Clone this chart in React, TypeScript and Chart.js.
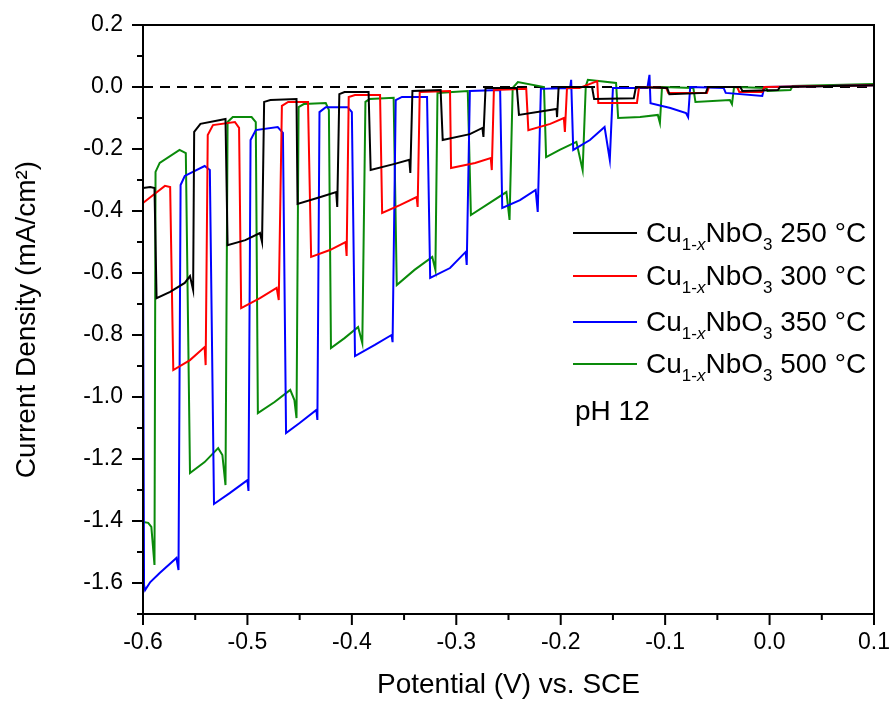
import React, { useEffect, useRef } from "react";
import { Chart, registerables } from "chart.js";

Chart.register(...registerables);

// ---- Data (Potential V vs SCE, Current density mA/cm^2) ----
const potential250 = [-0.600,-0.593,-0.589,-0.587,-0.574,-0.560,-0.555,-0.552,-0.551,-0.545,-0.521,-0.519,-0.502,-0.488,-0.486,-0.484,-0.478,-0.453,-0.452,-0.430,-0.415,-0.414,-0.412,-0.407,-0.384,-0.382,-0.359,-0.345,-0.344,-0.342,-0.315,-0.313,-0.287,-0.275,-0.274,-0.272,-0.242,-0.240,-0.204,-0.2035,-0.202,-0.170,-0.168,-0.130,-0.128,-0.098,-0.096,-0.061,-0.059,-0.028,-0.026,0.008,0.010,0.100];
const current250 = [-0.326,-0.323,-0.326,-0.681,-0.661,-0.632,-0.610,-0.655,-0.145,-0.119,-0.103,-0.510,-0.494,-0.471,-0.500,-0.048,-0.042,-0.039,-0.377,-0.355,-0.339,-0.387,-0.023,-0.016,-0.016,-0.268,-0.248,-0.235,-0.277,-0.013,-0.010,-0.171,-0.152,-0.132,-0.161,-0.003,-0.003,-0.090,-0.071,-0.097,0.000,0.000,-0.039,-0.036,0.000,-0.003,-0.023,-0.019,0.000,0.000,-0.013,-0.010,0.000,0.006];

const potential300 = [-0.600,-0.589,-0.579,-0.574,-0.571,-0.555,-0.541,-0.540,-0.538,-0.533,-0.512,-0.508,-0.506,-0.488,-0.472,-0.470,-0.467,-0.461,-0.442,-0.439,-0.421,-0.406,-0.405,-0.403,-0.397,-0.373,-0.371,-0.354,-0.338,-0.337,-0.335,-0.306,-0.305,-0.282,-0.267,-0.266,-0.264,-0.233,-0.231,-0.210,-0.197,-0.196,-0.194,-0.182,-0.165,-0.164,-0.127,-0.125,-0.099,-0.097,-0.060,-0.058,-0.031,-0.029,-0.007,-0.005,0.100];
const current300 = [-0.374,-0.345,-0.319,-0.323,-0.913,-0.881,-0.839,-0.897,-0.155,-0.123,-0.113,-0.132,-0.713,-0.681,-0.648,-0.687,-0.061,-0.048,-0.048,-0.548,-0.526,-0.500,-0.545,-0.032,-0.026,-0.026,-0.406,-0.381,-0.355,-0.387,-0.016,-0.013,-0.261,-0.245,-0.229,-0.268,-0.010,-0.006,-0.139,-0.119,-0.100,-0.145,-0.003,-0.003,0.019,-0.052,-0.052,0.000,-0.003,-0.019,-0.019,0.000,0.000,-0.016,-0.016,0.000,0.006];

const potential350 = [-0.600,-0.599,-0.598,-0.593,-0.584,-0.568,-0.566,-0.564,-0.560,-0.541,-0.536,-0.532,-0.517,-0.500,-0.499,-0.497,-0.492,-0.471,-0.466,-0.463,-0.450,-0.434,-0.433,-0.431,-0.425,-0.404,-0.400,-0.397,-0.378,-0.362,-0.361,-0.358,-0.352,-0.328,-0.325,-0.306,-0.291,-0.290,-0.287,-0.258,-0.256,-0.239,-0.224,-0.222,-0.219,-0.191,-0.190,-0.188,-0.172,-0.158,-0.153,-0.150,-0.117,-0.115,-0.114,-0.095,-0.080,-0.078,-0.076,-0.044,-0.042,-0.007,-0.005,0.100];
const current350 = [-0.565,-1.606,-1.623,-1.597,-1.568,-1.519,-1.558,-0.316,-0.287,-0.255,-0.268,-1.345,-1.310,-1.268,-1.303,-0.171,-0.139,-0.129,-0.148,-1.116,-1.084,-1.042,-1.074,-0.081,-0.065,-0.065,-0.081,-0.868,-0.832,-0.800,-0.823,-0.042,-0.032,-0.032,-0.616,-0.584,-0.532,-0.574,-0.013,-0.010,-0.390,-0.365,-0.332,-0.403,-0.006,-0.003,0.023,-0.203,-0.171,-0.129,-0.235,-0.003,-0.003,0.039,-0.052,-0.068,-0.084,-0.097,0.000,-0.003,-0.019,-0.029,0.000,0.006];

const potential500 = [-0.600,-0.595,-0.592,-0.589,-0.588,-0.584,-0.565,-0.559,-0.555,-0.541,-0.528,-0.524,-0.521,-0.519,-0.514,-0.496,-0.492,-0.490,-0.474,-0.459,-0.455,-0.453,-0.451,-0.446,-0.425,-0.422,-0.420,-0.407,-0.394,-0.390,-0.387,-0.383,-0.360,-0.357,-0.340,-0.323,-0.320,-0.318,-0.289,-0.286,-0.268,-0.252,-0.249,-0.246,-0.241,-0.216,-0.214,-0.201,-0.185,-0.179,-0.176,-0.174,-0.147,-0.145,-0.124,-0.107,-0.105,-0.103,-0.073,-0.071,-0.038,-0.036,-0.034,-0.003,-0.002,0.020,0.022,0.100];
const current500 = [-1.403,-1.406,-1.419,-1.542,-0.274,-0.245,-0.203,-0.213,-1.245,-1.210,-1.165,-1.187,-1.284,-0.113,-0.097,-0.097,-0.113,-1.052,-1.016,-0.977,-1.010,-1.068,-0.065,-0.055,-0.052,-0.074,-0.842,-0.810,-0.774,-0.826,-0.048,-0.039,-0.035,-0.639,-0.590,-0.548,-0.590,-0.019,-0.013,-0.413,-0.374,-0.339,-0.429,-0.003,0.016,0.000,-0.226,-0.203,-0.177,-0.268,0.003,0.023,0.013,-0.100,-0.097,-0.090,-0.116,0.000,-0.003,-0.048,-0.042,-0.055,0.000,-0.003,-0.013,-0.010,0.003,0.010];

const zeroLineX = [-0.6, 0.1];
const zeroLineY = [0, 0];

const temperatures = ["250 °C", "300 °C", "350 °C", "500 °C"];
const seriesColors = ["#000000", "#ff0000", "#0000ff", "#0a8a0a"];
const noteText = "pH 12";
const xTitle = "Potential (V) vs. SCE";
const yTitle = "Current Density (mA/cm²)";

const FONT = '"Liberation Sans", Arial, Helvetica, sans-serif';

function toPoints(xs: number[], ys: number[]) {
  return xs.map((x, i) => ({ x, y: ys[i] }));
}

const framePlugin = {
  id: "frameTicks",
  afterDraw(chart: any) {
    const { ctx, chartArea } = chart;
    const xs = chart.scales.x;
    const ys = chart.scales.y;
    ctx.save();
    ctx.strokeStyle = "#000";
    ctx.lineWidth = 2;
    ctx.strokeRect(chartArea.left, chartArea.top, chartArea.right - chartArea.left, chartArea.bottom - chartArea.top);
    ctx.beginPath();
    ys.ticks.forEach((t: any) => {
      const p = ys.getPixelForValue(t.value);
      const major = Math.round(t.value * 10) % 2 === 0;
      const len = major ? 11 : 6;
      ctx.moveTo(chartArea.left, p);
      ctx.lineTo(chartArea.left - len, p);
    });
    xs.ticks.forEach((t: any) => {
      const p = xs.getPixelForValue(t.value);
      const major = Math.round(t.value * 100) % 10 === 0;
      const len = major ? 11 : 6;
      ctx.moveTo(p, chartArea.bottom);
      ctx.lineTo(p, chartArea.bottom + len);
    });
    ctx.stroke();

    // Legend with subscripts
    const lineX0 = 573, lineX1 = 637, textX = 646;
    const rowY = [233, 276, 322, 364];
    ctx.textBaseline = "alphabetic";
    ctx.textAlign = "left";
    temperatures.forEach((t, i) => {
      const y = rowY[i];
      ctx.strokeStyle = seriesColors[i];
      ctx.lineWidth = 2;
      ctx.beginPath();
      ctx.moveTo(lineX0, y);
      ctx.lineTo(lineX1, y);
      ctx.stroke();
      ctx.fillStyle = "#000";
      const base = y + 9;
      let x = textX;
      const big = `28px ${FONT}`;
      const small = `17px ${FONT}`;
      const smallIt = `italic 17px ${FONT}`;
      const draw = (s: string, f: string, dy: number) => {
        ctx.font = f;
        ctx.fillText(s, x, base + dy);
        x += ctx.measureText(s).width;
      };
      draw("Cu", big, 0);
      draw("1-", small, 8);
      draw("x", smallIt, 8);
      draw("NbO", big, 0);
      draw("3", small, 8);
      draw(" " + t, big, 0);
    });
    ctx.font = `28px ${FONT}`;
    ctx.fillStyle = "#000";
    ctx.fillText(noteText, 575, 420);
    ctx.restore();
  },
};

export default function App() {
  const ref = useRef<HTMLCanvasElement>(null);
  useEffect(() => {
    if (!ref.current) return;
    const series = [
      [potential250, current250],
      [potential300, current300],
      [potential350, current350],
      [potential500, current500],
    ];
    const datasets: any[] = series.map((s, i) => ({
      label: temperatures[i],
      data: toPoints(s[0], s[1]),
      borderColor: seriesColors[i],
      backgroundColor: seriesColors[i],
      borderWidth: 2,
      pointRadius: 0,
      tension: 0,
      fill: false,
    }));
    datasets.push({
      label: "zero",
      data: toPoints(zeroLineX, zeroLineY),
      borderColor: "#000",
      borderWidth: 2,
      borderDash: [10, 7],
      pointRadius: 0,
      fill: false,
    });
    const chart = new Chart(ref.current, {
      type: "line",
      data: { datasets },
      options: {
        animation: false,
        responsive: false,
        maintainAspectRatio: false,
        layout: { padding: { top: 25, right: 15, left: 0, bottom: 0 } },
        plugins: { legend: { display: false }, tooltip: { enabled: false } },
        scales: {
          x: {
            type: "linear",
            min: -0.6,
            max: 0.1,
            grid: { display: false, drawTicks: false },
            border: { display: false },
            afterFit: (s: any) => { s.height = 88; s.paddingLeft = 0; s.paddingRight = 0; },
            ticks: {
              stepSize: 0.05,
              padding: 15,
              color: "#000",
              font: { family: FONT, size: 23 },
              maxRotation: 0,
              autoSkip: false,
              callback: (v: any) => {
                const n = Number(v);
                if (Math.round(n * 100) % 10 !== 0) return "";
                return Math.abs(n) < 1e-9 ? "0.0" : n.toFixed(1);
              },
            },
            title: {
              display: true,
              text: xTitle,
              color: "#000",
              font: { family: FONT, size: 28 },
              padding: { top: 0, bottom: 0 },
            },
          },
          y: {
            type: "linear",
            min: -1.7,
            max: 0.2,
            grid: { display: false, drawTicks: false },
            border: { display: false },
            afterFit: (s: any) => { s.width = 143; s.paddingTop = 0; s.paddingBottom = 0; },
            ticks: {
              stepSize: 0.1,
              padding: 20,
              color: "#000",
              font: { family: FONT, size: 23 },
              autoSkip: false,
              callback: (v: any) => {
                const n = Number(v);
                if (Math.round(n * 10) % 2 !== 0) return "";
                return Math.abs(n) < 1e-9 ? "0.0" : n.toFixed(1);
              },
            },
            title: {
              display: true,
              text: yTitle,
              color: "#000",
              font: { family: FONT, size: 28 },
              padding: { top: 10, bottom: 10 },
            },
          },
        },
      },
      plugins: [framePlugin],
    });
    return () => chart.destroy();
  }, []);
  return (
    <div style={{ position: "absolute", left: 0, top: 0, width: 889, height: 702, background: "#fff" }}>
      <canvas ref={ref} width={889} height={702} style={{ display: "block", width: 889, height: 702 }} />
    </div>
  );
}
